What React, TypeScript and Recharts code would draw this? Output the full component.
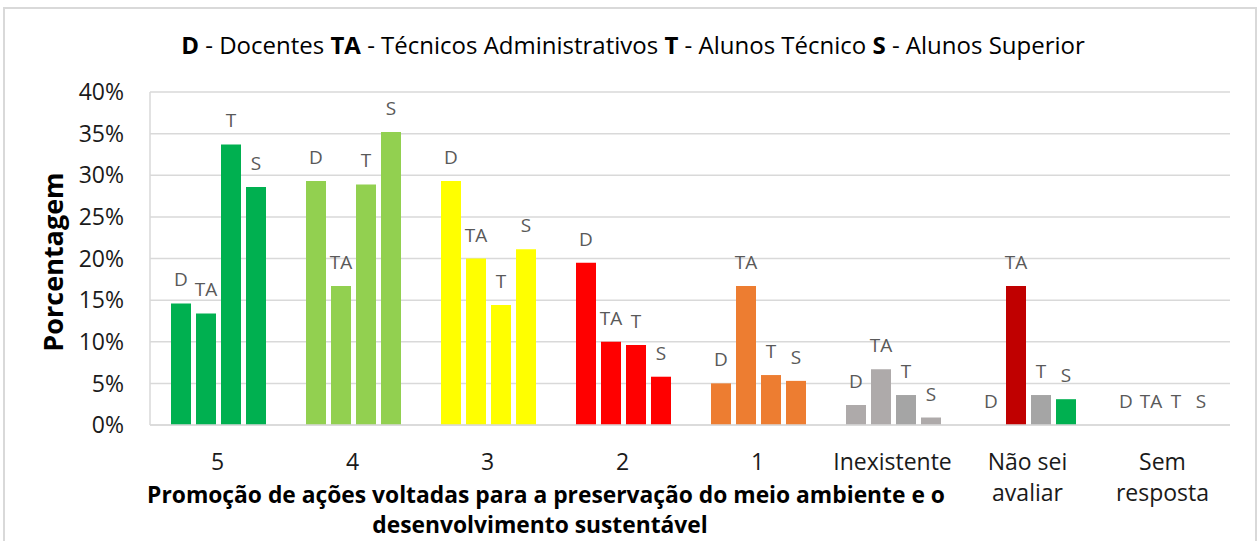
import React from "react";
import {
  Bar,
  BarChart,
  CartesianGrid,
  Cell,
  LabelList,
  XAxis,
  YAxis,
} from "recharts";

// answer categories (x axis), "\n" marks a line break in the tick label
const categories = ["5", "4", "3", "2", "1", "Inexistente", "Não sei\navaliar", "Sem\nresposta"];

// percentage per group of respondents
const docentes = [14.6, 29.3, 29.3, 19.5, 5.0, 2.4, 0, 0];
const tecnicosAdm = [13.4, 16.7, 20.0, 10.0, 16.7, 6.7, 16.7, 0];
const alunosTecnico = [33.7, 28.9, 14.4, 9.6, 6.0, 3.6, 3.6, 0];
const alunosSuperior = [28.6, 35.2, 21.1, 5.8, 5.3, 0.9, 3.1, 0];

const yTicks = [0, 5, 10, 15, 20, 25, 30, 35, 40];

// bar fills, one per category, for each series
const dColors = ["#00B050", "#92D050", "#FFFF00", "#FF0000", "#ED7D31", "#AEAAAA", "#A5A5A5", "#A5A5A5"];
const taColors = ["#00B050", "#92D050", "#FFFF00", "#FF0000", "#ED7D31", "#AEAAAA", "#C00000", "#A5A5A5"];
const tColors = ["#00B050", "#92D050", "#FFFF00", "#FF0000", "#ED7D31", "#A5A5A5", "#A5A5A5", "#A5A5A5"];
const sColors = ["#00B050", "#92D050", "#FFFF00", "#FF0000", "#ED7D31", "#AEAAAA", "#00B050", "#A5A5A5"];

const data = categories.map((name, i) => ({
  name,
  D: docentes[i],
  TA: tecnicosAdm[i],
  T: alunosTecnico[i],
  S: alunosSuperior[i],
}));

const series = [
  { key: "D", colors: dColors },
  { key: "TA", colors: taColors },
  { key: "T", colors: tColors },
  { key: "S", colors: sColors },
];

const FONT = "'Open Sans', Lato, sans-serif";

function letterLabel(letter: string) {
  return (props: any) => {
    const { x, y, width } = props;
    return (
      <text
        x={Number(x) + Number(width) / 2}
        y={Number(y) - 24}
        textAnchor="middle"
        dominantBaseline="central"
        fontFamily={FONT}
        fontSize={19}
        fill="#595959"
      >
        {letter}
      </text>
    );
  };
}

function CategoryTick(props: any) {
  const { x, y, payload } = props;
  const lines = String(payload.value).split("\n");
  return (
    <text x={x} y={y} textAnchor="middle" fontFamily={FONT} fontSize={23} fill="#1a1a1a">
      {lines.map((l, i) => (
        <tspan key={i} x={x} dy={i === 0 ? 37 : 31}>
          {l}
        </tspan>
      ))}
    </text>
  );
}

function XTitle() {
  return (
    <g fontFamily={FONT} fontSize={22.8} fontWeight="bold" fill="#000" textAnchor="middle">
      <text x={546} y={503}>
        Promoção de ações voltadas para a preservação do meio ambiente e o
      </text>
      <text x={540} y={533}>
        desenvolvimento sustentável
      </text>
    </g>
  );
}

function YTitle() {
  return (
    <text
      x={52}
      y={262}
      transform="rotate(-90 52 262)"
      textAnchor="middle"
      dominantBaseline="central"
      fontFamily={FONT}
      fontSize={27}
      fontWeight="bold"
      fill="#000"
    >
      Porcentagem
    </text>
  );
}

export default function App() {
  return (
    <div style={{ position: "absolute", left: 0, top: 0, width: 1258, height: 541, background: "#fff", overflow: "hidden" }}>
      <div
        style={{
          position: "absolute",
          left: 3,
          top: 7,
          width: 1250,
          height: 540,
          border: "2px solid #d9d9d9",
        }}
      />
      <div
        style={{
          position: "absolute",
          left: 0,
          top: 28,
          width: 1266,
          textAlign: "center",
          fontFamily: FONT,
          fontSize: 24,
          color: "#000",
          whiteSpace: "nowrap",
        }}
      >
        <b>D</b> - Docentes <b>TA</b> - Técnicos Administrativos <b>T</b> - Alunos Técnico <b>S</b> - Alunos Superior
      </div>
      <div style={{ position: "absolute", left: 0, top: 0 }}>
        <BarChart
          width={1258}
          height={541}
          data={data}
          margin={{ top: 92, right: 28, bottom: 0, left: 50 }}
          barCategoryGap={21}
          barGap={5}
        >
          <CartesianGrid vertical={false} stroke="#d9d9d9" strokeWidth={1.5} />
          <XAxis
            dataKey="name"
            height={116}
            interval={0}
            axisLine={{ stroke: "#d9d9d9", strokeWidth: 1.5 }}
            tickLine={false}
            tick={<CategoryTick />}
            label={<XTitle />}
          />
          <YAxis
            width={100}
            domain={[0, 40]}
            ticks={yTicks}
            tickFormatter={(v: number) => `${v}%`}
            axisLine={{ stroke: "#d9d9d9", strokeWidth: 1.5 }}
            tickLine={false}
            tickMargin={20}
            tick={{ fontFamily: FONT, fontSize: 23, fill: "#1a1a1a" }}
            label={<YTitle />}
          />
          {series.map((s) => (
            <Bar key={s.key} dataKey={s.key} minPointSize={0.01} isAnimationActive={false}>
              {data.map((_, i) => (
                <Cell key={i} fill={s.colors[i]} />
              ))}
              <LabelList dataKey={s.key} content={letterLabel(s.key)} />
            </Bar>
          ))}
        </BarChart>
      </div>
    </div>
  );
}
